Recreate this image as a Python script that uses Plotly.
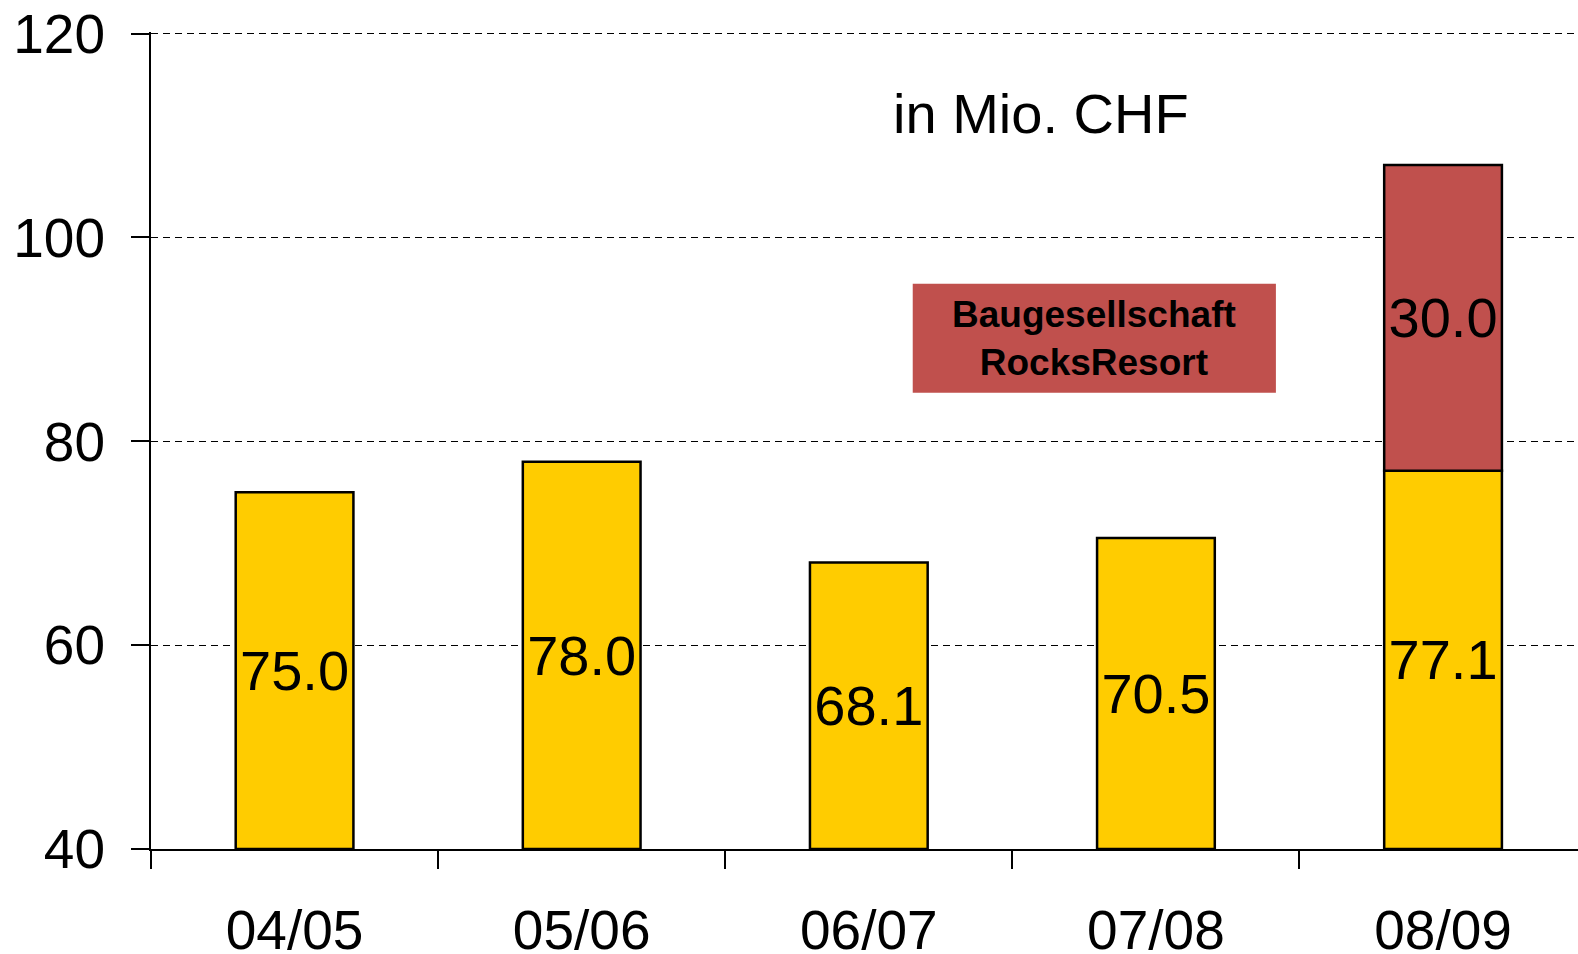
import plotly.graph_objects as go

categories = ["04/05", "05/06", "06/07", "07/08", "08/09"]
base_values = [75.0, 78.0, 68.1, 70.5, 77.1]
rocks_category = ["08/09"]
rocks_values = [30.0]
y_min, y_max = 40, 120
y_ticks = [40, 60, 80, 100, 120]

FONT = "Liberation Sans, Arial, Helvetica, sans-serif"
YELLOW = "#FFCC00"
RED = "#C0504D"

fig = go.Figure()

fig.add_trace(go.Bar(
    x=categories,
    y=[v - y_min for v in base_values],
    base=[y_min] * len(base_values),
    width=0.41,
    marker=dict(color=YELLOW, line=dict(color="black", width=2.5)),
    text=[f"{v:.1f}" for v in base_values],
    textposition="inside",
    insidetextanchor="middle",
    constraintext="none",
    textangle=0,
    textfont=dict(family=FONT, size=56, color="black"),
    hoverinfo="skip",
    showlegend=False,
))

rocks_base = [base_values[categories.index(c)] for c in rocks_category]
fig.add_trace(go.Bar(
    x=rocks_category,
    y=rocks_values,
    base=rocks_base,
    width=0.41,
    marker=dict(color=RED, line=dict(color="black", width=2.5)),
    text=[f"{v:.1f}" for v in rocks_values],
    textposition="inside",
    insidetextanchor="middle",
    constraintext="none",
    textangle=0,
    textfont=dict(family=FONT, size=56, color="black"),
    hoverinfo="skip",
    showlegend=False,
))

fig.update_layout(
    width=1578, height=954,
    margin=dict(l=151, r=0, t=32, b=105, autoexpand=False),
    paper_bgcolor="white", plot_bgcolor="white",
    barmode="overlay",
    font=dict(family=FONT, color="black"),
    xaxis=dict(
        type="category",
        categoryorder="array", categoryarray=categories,
        range=[-0.5, 4.47],
        tickson="boundaries",
        ticks="outside", ticklen=18, tickwidth=2, tickcolor="black",
        showline=True, linecolor="black", linewidth=2,
        showgrid=False,
        tickfont=dict(family=FONT, size=55, color="black"),
        ticklabelstandoff=32,
        fixedrange=True,
    ),
    yaxis=dict(
        range=[y_min, y_max + 0.15],
        tickvals=y_ticks,
        ticks="outside", ticklen=18, tickwidth=2, tickcolor="black",
        showline=True, linecolor="black", linewidth=2,
        showgrid=True, gridcolor="black", gridwidth=1, griddash="7px,5px",
        zeroline=False,
        tickfont=dict(family=FONT, size=55, color="black"),
        ticklabelstandoff=15,
        fixedrange=True,
    ),
)

fig.add_shape(
    type="rect", xref="paper", yref="paper",
    x0=0.5338, x1=0.7883, y0=0.5583, y1=0.6918,
    fillcolor=RED, line=dict(width=0), layer="above",
)
fig.add_annotation(
    xref="paper", yref="paper", x=0.6611, y=0.625,
    text="<b>Baugesellschaft<br>RocksResort</b>",
    showarrow=False, xanchor="center", yanchor="middle",
    font=dict(family=FONT, size=37, color="black"),
)
fig.add_annotation(
    xref="paper", yref="paper", x=0.6236, y=0.900,
    text="in Mio. CHF",
    showarrow=False, xanchor="center", yanchor="middle",
    font=dict(family=FONT, size=56, color="black"),
)

fig.write_html(
    "out.html",
    config={"displayModeBar": False},
    post_script="document.body.style.margin='0';document.body.style.overflow='hidden';",
)
